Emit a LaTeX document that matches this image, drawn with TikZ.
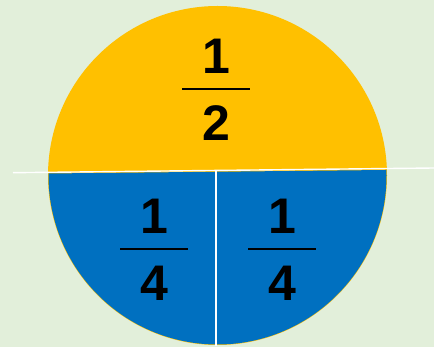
\documentclass[tikz,border=0pt]{standalone}
\usepackage{fontspec}
\setmainfont{Liberation Sans}
\usetikzlibrary{positioning}

\definecolor{paleGreen}{HTML}{E2EFDA}
\definecolor{halfYellow}{HTML}{FFC000}
\definecolor{quarterBlue}{HTML}{0070C0}

\begin{document}
\begin{tikzpicture}[
    x=1pt, y=-1pt,
    digit/.style={inner sep=0pt, font=\fontsize{50}{50}\selectfont\bfseries},
    fracbar/.style={line width=2.7pt, black},
    cut/.style={white, line width=1.4pt}
]
% background and page size
\fill[paleGreen] (0,0) rectangle (434,347);
\useasboundingbox (0,0) rectangle (434,347);

% the pie
\fill[halfYellow] (217.5,175.5) circle (169.5);
\begin{scope}
  \clip (0,174) -- (434,169.5) -- (434,347) -- (0,347) -- cycle;
  \fill[quarterBlue] (217.5,175.5) circle (169);
\end{scope}

% cut lines
\coordinate (hl) at (13,172.7);
\coordinate (hr) at (434,168);
\coordinate (vt) at (216,171);
\coordinate (vb) at (216,346);
\draw[cut] (hl) -- (hr);
\draw[cut] (vt) -- (vb);

% fractions
\foreach \x/\y/\d/\nm in {216/89/2/half, 154/249/4/qleft, 282/249/4/qright} {
  \node[digit] (\nm-num) at (\x,\y-32.5) {1};
  \node[digit] (\nm-den) at (\x,\y+34) {\d};
  \draw[fracbar] (\x-34,\y) -- (\x+34,\y);
}
\end{tikzpicture}
\end{document}
